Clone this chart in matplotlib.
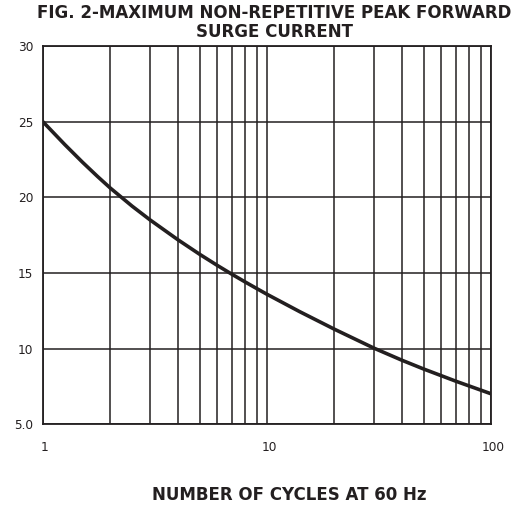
import numpy as np
import matplotlib.pyplot as plt
from matplotlib.ticker import FixedLocator, NullFormatter
import matplotlib.transforms as mtransforms

# Curve
cycles = [1, 1.25, 1.5, 1.75, 2, 2.5, 3, 4, 5, 6, 7, 8, 9, 10,
          14, 20, 30, 40, 50, 70, 100]
current = [25.0, 23.5, 22.33, 21.39, 20.61, 19.42, 18.52, 17.2, 16.24, 15.5,
           14.9, 14.4, 13.97, 13.59, 12.44, 11.28, 10.03, 9.23, 8.65, 7.83, 7.01]

y_ticks = [5, 10, 15, 20, 25, 30]
y_labels = ['5.0', '10', '15', '20', '25', '30']
x_ticks = [1, 10, 100]
x_labels = ['1', '10', '100']

ink = '#231f20'
plt.rcParams['font.family'] = ['DejaVu Sans']

fig = plt.figure(figsize=(5.29, 5.08), dpi=100)
ax = fig.add_axes([0.0813, 0.165, 0.847, 0.744])

ax.plot(cycles, current, color=ink, lw=2.6, solid_capstyle='round', zorder=3)

ax.set_xscale('log')
ax.set_xlim(1, 100)
ax.set_ylim(5, 30)

ax.xaxis.set_major_locator(FixedLocator(x_ticks))
ax.set_xticklabels(x_labels)
minor = [m * d for d in (1, 10) for m in range(2, 10)]
ax.xaxis.set_minor_locator(FixedLocator(minor))
ax.xaxis.set_minor_formatter(NullFormatter())
ax.set_yticks(y_ticks)
ax.set_yticklabels(y_labels)

ax.grid(True, which='both', axis='x', color=ink, lw=1.1)
ax.grid(True, which='major', axis='y', color=ink, lw=1.1)
ax.tick_params(which='both', length=0, labelsize=8.7, colors=ink)
ax.tick_params(axis='x', pad=12)
ax.tick_params(axis='y', pad=7)
for lab in ax.get_xticklabels():
    lab.set_transform(lab.get_transform() +
                      mtransforms.ScaledTranslation(2 / 100, 0, fig.dpi_scale_trans))
for s in ax.spines.values():
    s.set_color(ink)
    s.set_linewidth(1.3)

fig.text(0.518, 0.993, 'FIG. 2-MAXIMUM NON-REPETITIVE PEAK FORWARD\nSURGE CURRENT',
         ha='center', va='top', fontsize=12, fontweight='bold', color=ink,
         linespacing=1.08)
fig.text(0.546, 0.026, 'NUMBER OF CYCLES AT 60 Hz', ha='center', va='center',
         fontsize=12, fontweight='bold', color=ink)

fig.savefig('out.png', dpi=100)
